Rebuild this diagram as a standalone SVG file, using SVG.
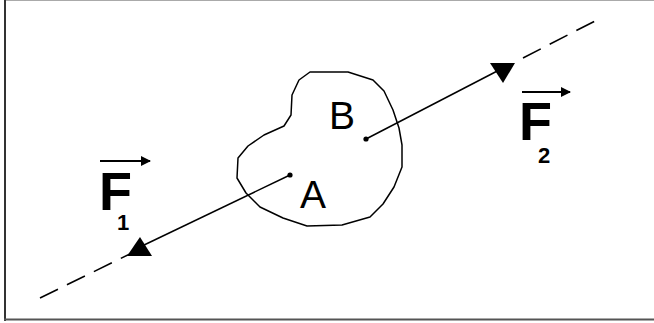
<svg xmlns="http://www.w3.org/2000/svg" width="654" height="323" viewBox="0 0 654 323">
<style>
.ln{stroke:#000;stroke-width:1.5;fill:none}
.dash{stroke:#000;stroke-width:1.6;fill:none;stroke-dasharray:20 10}
.lbl{font-family:"Liberation Sans",Arial,sans-serif;fill:#000}
.big{font-weight:bold;font-size:54px}
.sub{font-weight:bold;font-size:22px}
.pt{font-size:39px}
</style>
<defs>
<marker id="vh" markerWidth="10" markerHeight="10" refX="9" refY="5" orient="auto" markerUnits="userSpaceOnUse">
<path d="M0,0 L10,5 L0,10 Z" fill="#000"/>
</marker>
</defs>
<rect x="0" y="0" width="654" height="323" fill="#fff"/>
<g id="frame">
<line x1="4" y1="0.5" x2="654" y2="0.5" stroke="#aaa" stroke-width="1"/>
<line x1="5" y1="0" x2="5" y2="321" stroke="#333" stroke-width="2"/>
<line x1="4" y1="319.5" x2="654" y2="319.5" stroke="#555" stroke-width="2"/>
</g>
<g id="body">
<path class="ln" stroke-linejoin="round" d="M310,72 L348,72 L373,80 L384,91 L393,110 L399,128 L402,145 L402,167 L394,187 L383,204 L370,217 L342,225 L307,226 L283,218 L260,207 L246,193 L237,178 L238,158 L248,146 L264,135 L284,126 L291,115 L292,95 L299,80 Z"/>
</g>
<g id="connectors">
<path class="dash" d="M40,298 L140,249"/>
<path class="dash" d="M523,58 L595,21"/>
<line class="ln" x1="290" y1="175" x2="142" y2="246"/>
<line class="ln" x1="366" y1="139" x2="505" y2="67"/>
</g>
<g id="pointA">
<circle cx="290" cy="175" r="2.6" fill="#000"/>
<text class="lbl pt" x="300" y="208">A</text>
</g>
<g id="pointB">
<circle cx="366" cy="139" r="2.6" fill="#000"/>
<text class="lbl pt" x="329" y="129">B</text>
</g>
<g id="F1">
<polygon points="127,256 152,256 140,237" fill="#000"/>
<line x1="100" y1="161" x2="150" y2="161" stroke="#000" stroke-width="2" marker-end="url(#vh)"/>
<text class="lbl big" x="99" y="210">F<tspan class="sub" dx="-15" dy="20">1</tspan></text>
</g>
<g id="F2">
<polygon points="490,63 515,63 503,83" fill="#000"/>
<line x1="522" y1="92" x2="570" y2="92" stroke="#000" stroke-width="2" marker-end="url(#vh)"/>
<text class="lbl big" x="519" y="140">F<tspan class="sub" dx="-14" dy="23">2</tspan></text>
</g>
</svg>
